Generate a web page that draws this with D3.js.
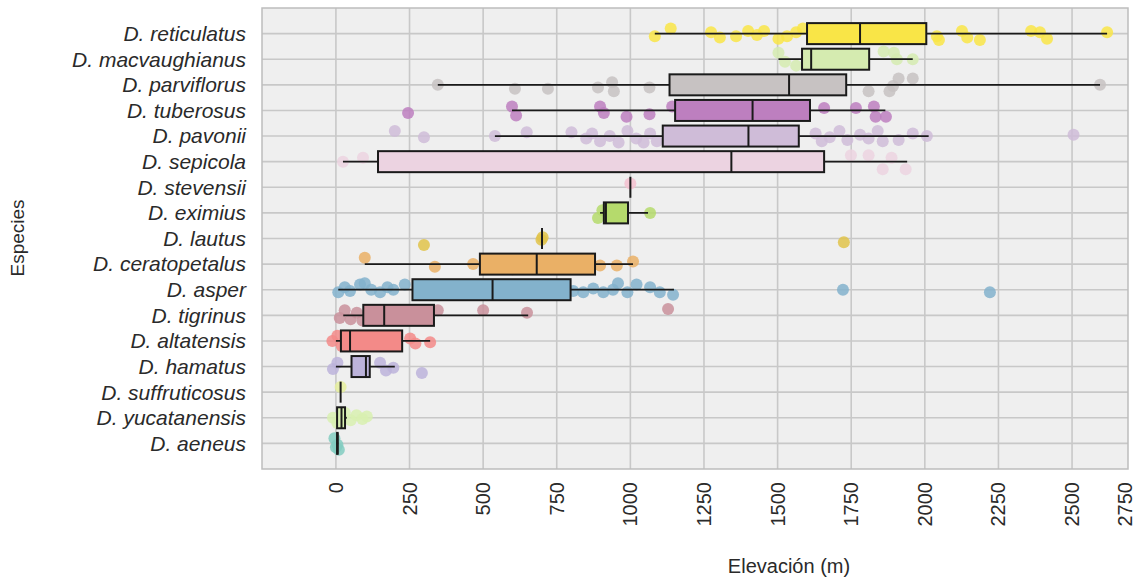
<!DOCTYPE html>
<html>
<head>
<meta charset="utf-8">
<script src="https://cdn.jsdelivr.net/npm/d3@7"></script>
<style>
  body { margin: 0; background: #fff; }
  text { font-family: "Liberation Sans", Arial, sans-serif; }
</style>
</head>
<body>
<svg id="chart" width="1146" height="584"></svg>
<script>
// species, top to bottom
var species = ["D. reticulatus", "D. macvaughianus", "D. parviflorus", "D. tuberosus", "D. pavonii",
  "D. sepicola", "D. stevensii", "D. eximius", "D. lautus", "D. ceratopetalus", "D. asper",
  "D. tigrinus", "D. altatensis", "D. hamatus", "D. suffruticosus", "D. yucatanensis", "D. aeneus"]
var colors = ["#f9e547", "#d5ebb0", "#c7c2c2", "#bd7fbf", "#cfbcd8",
  "#ecd3e1", "#f3bfcf", "#b5da6c", "#e0c34a", "#eab066", "#83b2cc",
  "#c9909b", "#f38a88", "#bcb3da", "#e5ee9c", "#d8f0b0", "#82cdc1"]

// boxplot stats (m)
var whiskerLo = [1083, 1503, 346, 598, 540, 24, 1000, 897, 700, 98, 8, 25, 0, 0, 16, 4, 2]
var q1 = [1600, 1583, 1133, 1152, 1110, 143, 1000, 910, 700, 489, 260, 93, 17, 53, 16, 4, 4]
var median = [1780, 1614, 1539, 1415, 1401, 1343, 1000, 917, 700, 682, 532, 164, 48, 102, 16, 19, 5]
var q3 = [2005, 1811, 1733, 1610, 1572, 1658, 1000, 992, 700, 880, 797, 333, 225, 115, 16, 31, 6]
var whiskerHi = [2619, 1959, 2595, 1866, 2013, 1940, 1000, 1060, 700, 1009, 1148, 653, 320, 200, 16, 37, 8]

// jittered observations: [elevation, vertical jitter in rows]
var points = [
  [[1083,0.1],[1137,-0.2],[1274,-0.05],[1304,0.15],[1359,0.1],[1400,-0.1],[1430,0.05],[1454,-0.1],[1503,0.2],[1532,0.1],[1563,-0.05],[1586,-0.2],[1650,0.1],[1720,-0.1],[1800,0.15],[1900,-0.05],[2041,0.1],[2048,0.25],[2126,-0.1],[2144,0.15],[2187,0.25],[2361,-0.1],[2391,-0.05],[2415,0.2],[2619,-0.05]],
  [[1503,-0.25],[1525,0.1],[1563,0.25],[1600,0.0],[1700,0.1],[1860,-0.3],[1895,-0.25],[1905,0.0],[1959,0.0]],
  [[346,0],[608,0.15],[720,0.15],[890,0.1],[938,-0.1],[944,0.25],[1065,0.1],[1809,0.25],[1880,0.25],[1892,0.05],[1911,-0.25],[1959,-0.25],[2595,0.0]],
  [[245,0.1],[598,-0.15],[612,0.2],[897,-0.15],[910,0.1],[987,0.25],[1065,0.15],[1142,-0.15],[1658,-0.1],[1766,-0.1],[1827,-0.15],[1833,0.25],[1868,0.25]],
  [[200,-0.2],[299,0.05],[540,0.0],[648,-0.15],[800,-0.15],[850,0.1],[870,-0.1],[897,0.2],[930,0.0],[960,0.25],[990,-0.2],[1020,0.1],[1045,0.25],[1067,-0.1],[1090,0.2],[1629,-0.1],[1650,0.2],[1677,0.05],[1710,-0.2],[1737,0.15],[1780,-0.05],[1809,0.1],[1840,-0.2],[1857,0.2],[1911,0.15],[1959,-0.1],[2007,0.0],[2505,-0.05]],
  [[24,0.0],[92,-0.15],[1749,-0.25],[1809,-0.25],[1857,0.3],[1887,-0.15],[1935,0.3]],
  [[1000,-0.15]],
  [[890,0.2],[905,-0.1],[930,0.1],[960,-0.05],[1067,0.0]],
  [[299,0.25],[698,0.05],[702,-0.05],[1725,0.15]],
  [[98,-0.25],[336,0.1],[466,0.0],[600,0.2],[700,-0.2],[820,0.1],[897,0.05],[954,0.05],[1009,-0.1]],
  [[8,0.1],[30,-0.1],[48,0.05],[82,-0.2],[98,-0.25],[120,0.0],[150,0.1],[175,-0.1],[195,0.0],[234,-0.2],[806,0.05],[840,0.1],[874,-0.05],[908,0.1],[941,0.0],[958,-0.25],[990,0.1],[1021,-0.2],[1067,-0.1],[1100,0.1],[1145,0.2],[1722,0.0],[2221,0.1]],
  [[13,0.1],[30,-0.2],[50,0.15],[71,-0.1],[90,0.2],[346,-0.2],[500,-0.2],[649,-0.1],[1128,-0.25]],
  [[-12,0.0],[5,-0.2],[20,0.2],[252,-0.1],[270,0.1],[320,0.05]],
  [[-10,0.1],[5,-0.15],[150,-0.15],[170,0.15],[195,0.05],[292,0.25]],
  [[16,-0.2]],
  [[-10,0.0],[5,0.2],[30,-0.2],[50,0.1],[70,-0.1],[90,0.05],[105,-0.05]],
  [[-5,-0.2],[5,0.05],[10,0.25],[0,0.15]]
]

var xTicks = [0, 250, 500, 750, 1000, 1250, 1500, 1750, 2000, 2250, 2500, 2750]

var svg = d3.select("#chart")
var width = 1146, height = 584
var margin = {left: 262, top: 8, right: 18, bottom: 115}

var x = d3.scaleLinear().domain([-251, 2690]).range([margin.left, width - margin.right])
var y = d3.scalePoint().domain(species).range([margin.top, height - margin.bottom]).padding(1)
var step = y.step()
var boxH = 21

// panel
svg.append("rect")
  .attr("x", margin.left).attr("y", margin.top)
  .attr("width", width - margin.right - margin.left)
  .attr("height", height - margin.bottom - margin.top)
  .style("fill", "#efefef")

var grid = svg.append("g")
grid.selectAll(".vg").data(xTicks.filter(d => x(d) < width - margin.right)).enter()
  .append("line")
  .attr("x1", d => x(d)).attr("x2", d => x(d))
  .attr("y1", margin.top).attr("y2", height - margin.bottom)
  .style("stroke", "#c8c8c8").style("stroke-width", 1.6)
grid.selectAll(".hg").data(species).enter()
  .append("line")
  .attr("x1", margin.left).attr("x2", width - margin.right)
  .attr("y1", d => y(d)).attr("y2", d => y(d))
  .style("stroke", "#c8c8c8").style("stroke-width", 1.6)

// jittered points
species.forEach(function(s, i) {
  svg.append("g").selectAll("circle").data(points[i]).enter()
    .append("circle")
    .attr("cx", d => x(d[0]))
    .attr("cy", d => y(s) + d[1] * step)
    .attr("r", 6)
    .style("fill", colors[i])
    .style("fill-opacity", 0.85)
})

// boxplots
species.forEach(function(s, i) {
  var g = svg.append("g")
  var cy = y(s)
  g.append("line")
    .attr("x1", x(whiskerLo[i])).attr("x2", x(whiskerHi[i]))
    .attr("y1", cy).attr("y2", cy)
    .style("stroke", "#1a1a1a").style("stroke-width", 1.8)
  g.append("rect")
    .attr("x", x(q1[i])).attr("y", cy - boxH / 2)
    .attr("width", Math.max(0, x(q3[i]) - x(q1[i])))
    .attr("height", boxH)
    .style("fill", colors[i])
    .style("stroke", "#1a1a1a").style("stroke-width", 2)
  g.append("line")
    .attr("x1", x(median[i])).attr("x2", x(median[i]))
    .attr("y1", cy - boxH / 2).attr("y2", cy + boxH / 2)
    .style("stroke", "#1a1a1a").style("stroke-width", 2)
})

// panel border
svg.append("rect")
  .attr("x", margin.left).attr("y", margin.top)
  .attr("width", width - margin.right - margin.left)
  .attr("height", height - margin.bottom - margin.top)
  .style("fill", "none").style("stroke", "#bdbdbd").style("stroke-width", 1.5)

// y labels
svg.append("g").selectAll("text").data(species).enter()
  .append("text")
  .attr("x", 246).attr("y", d => y(d)).attr("dy", "0.35em")
  .attr("text-anchor", "end")
  .style("font-style", "italic").style("font-size", "21px").style("fill", "#2a2a2a")
  .text(d => d)

// x tick labels (rotated)
var xr = x.range()[1]
svg.append("g").selectAll("text").data(xTicks).enter()
  .append("text")
  .attr("transform", d => "translate(" + Math.min(x(d), xr - 3) + "," + 482 + ") rotate(-90)")
  .attr("dy", "0.35em")
  .attr("text-anchor", "end")
  .style("font-size", "20px").style("fill", "#2a2a2a")
  .text(d => d)

// axis titles
svg.append("text")
  .attr("x", 789).attr("y", 573)
  .attr("text-anchor", "middle")
  .style("font-size", "20px").style("fill", "#2a2a2a")
  .text("Elevación (m)")
svg.append("text")
  .attr("transform", "translate(24,238) rotate(-90)")
  .attr("text-anchor", "middle")
  .style("font-size", "19px").style("fill", "#2a2a2a")
  .text("Especies")
</script>
</body>
</html>
